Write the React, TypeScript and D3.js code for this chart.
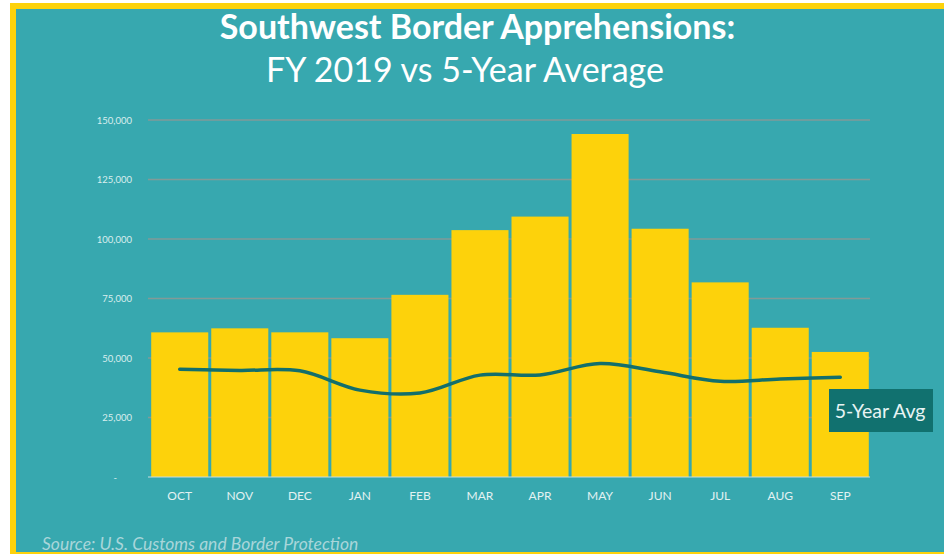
import React, { useEffect } from "react";
import * as d3 from "d3";

const months = ["OCT", "NOV", "DEC", "JAN", "FEB", "MAR", "APR", "MAY", "JUN", "JUL", "AUG", "SEP"];
const fy2019 = [60772, 62469, 60788, 58317, 76545, 103731, 109415, 144116, 104311, 81777, 62707, 52546];
const fiveYearAvg = [45300, 44800, 44600, 36500, 35300, 42800, 42900, 47700, 44200, 40200, 41200, 41900];
const yTicks = [0, 25000, 50000, 75000, 100000, 125000, 150000];

const W = 944;
const H = 554;
const TEAL = "#37a8af";
const YELLOW = "#fdd20b";
const LINE = "#136f6c";
const FONT = "Lato, 'Open Sans', sans-serif";

export default function App() {
  useEffect(() => {
    document.body.style.margin = "0";
  }, []);

  const x = d3.scaleBand<string>().domain(months).range([150, 870]).paddingInner(0.05).paddingOuter(0.02);
  const y = d3.scaleLinear().domain([0, 150000]).range([477, 120]);
  const line = d3
    .line<number>()
    .x((_, i) => (x(months[i]) as number) + x.bandwidth() / 2)
    .y((d) => y(d))
    .curve(d3.curveCatmullRom.alpha(0.5));

  const fmt = d3.format(",");

  return (
    <svg width={W} height={H} style={{ position: "absolute", left: 0, top: 0, display: "block" }}>
      <rect x={0} y={0} width={W} height={H} fill="#ffffff" />
      <rect x={10} y={3} width={W - 10} height={H - 3} fill={YELLOW} />
      <rect x={16} y={9} width={W - 16} height={H - 11} fill={TEAL} />

      <text x={477.5} y={39} textAnchor="middle" fill="#ffffff" fontFamily={FONT} fontWeight={700} fontSize={34}>
        Southwest Border Apprehensions:
      </text>
      <text x={465} y={82} textAnchor="middle" fill="#ffffff" fontFamily={FONT} fontWeight={400} fontSize={34}>
        FY 2019 vs 5-Year Average
      </text>

      {yTicks.slice(1).map((t) => (
        <line key={t} x1={148} x2={870} y1={y(t)} y2={y(t)} stroke="#829a98" strokeWidth={1.3} />
      ))}
      {yTicks.map((t) => (
        <text
          key={"l" + t}
          x={t === 0 ? 117 : 132}
          y={y(t) + 3.5}
          textAnchor="end"
          fill="#d9eeee"
          fontFamily={FONT}
          fontSize={9.5}
        >
          {t === 0 ? "-" : fmt(t)}
        </text>
      ))}

      {fy2019.map((v, i) => (
        <rect
          key={months[i]}
          x={x(months[i])}
          y={y(v)}
          width={x.bandwidth()}
          height={y(0) - y(v)}
          fill={YELLOW}
        />
      ))}
      <line x1={148} x2={870} y1={y(0)} y2={y(0)} stroke="#c9dede" strokeWidth={1} />

      <path d={line(fiveYearAvg) || ""} fill="none" stroke={LINE} strokeWidth={3.5} strokeLinecap="round" />

      {months.map((m) => (
        <text
          key={"x" + m}
          x={(x(m) as number) + x.bandwidth() / 2}
          y={500}
          textAnchor="middle"
          fill="#e3f2f2"
          fontFamily={FONT}
          fontSize={12}
        >
          {m}
        </text>
      ))}

      <rect x={829} y={389} width={104} height={43} fill="#11716f" />
      <text x={880} y={418} textAnchor="middle" fill="#e8f4f4" fontFamily={FONT} fontSize={19.5}>
        5-Year Avg
      </text>

      <text x={42} y={550} fill="#a9d6da" fontFamily={FONT} fontStyle="italic" fontSize={17.5}>
        Source: U.S. Customs and Border Protection
      </text>
    </svg>
  );
}
